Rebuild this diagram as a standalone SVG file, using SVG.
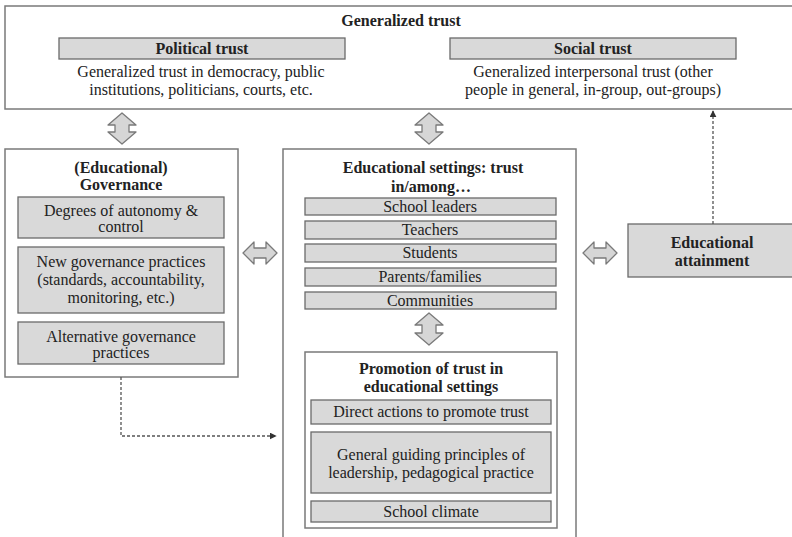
<svg xmlns="http://www.w3.org/2000/svg" width="792" height="537" viewBox="0 0 792 537">
<style>
text{font-family:'Liberation Serif','DejaVu Serif',serif;font-size:16px;fill:#222;text-anchor:middle}
.b{font-weight:bold}
.frame{fill:#fff;stroke:#7a7a7a;stroke-width:1.5}
.item{fill:#d9d9d9;stroke:#6a6a6a;stroke-width:1.3}
.dbl{fill:#d6d6d6;stroke:#7a7a7a;stroke-width:1.3;stroke-linejoin:round}
.dot{fill:none;stroke:#555;stroke-width:1.3;stroke-dasharray:3 2}
</style>
<defs>
<marker id="ah" viewBox="0 0 10 10" refX="9" refY="5" markerWidth="7" markerHeight="7" orient="auto" markerUnits="userSpaceOnUse">
<path d="M0,0 L10,5 L0,10 z" fill="#333"/>
</marker>
</defs>
<rect width="792" height="537" fill="#fff"/>

<g id="generalized-trust">
<rect class="frame" x="5" y="6" width="800" height="103"/>
<text class="b" x="401" y="26">Generalized trust</text>
<g id="political-trust">
<rect class="item" x="59" y="38" width="286" height="21"/>
<text class="b" x="202" y="54">Political trust</text>
<text x="201" y="77">Generalized trust in democracy, public</text>
<text x="201" y="95">institutions, politicians, courts, etc.</text>
</g>
<g id="social-trust">
<rect class="item" x="450" y="38" width="286" height="21"/>
<text class="b" x="593" y="54">Social trust</text>
<text x="593" y="77">Generalized interpersonal trust (other</text>
<text x="593" y="95">people in general, in-group, out-groups)</text>
</g>
</g>

<g id="governance">
<rect class="frame" x="5" y="149" width="233" height="228"/>
<text class="b" x="121" y="173">(Educational)</text>
<text class="b" x="121" y="190">Governance</text>
<rect class="item" x="18" y="197" width="206" height="41"/>
<text x="121" y="216">Degrees of autonomy &amp;</text>
<text x="121" y="232">control</text>
<rect class="item" x="18" y="247" width="206" height="66"/>
<text x="121" y="267">New governance practices</text>
<text x="121" y="285">(standards, accountability,</text>
<text x="121" y="303">monitoring, etc.)</text>
<rect class="item" x="18" y="322" width="206" height="42"/>
<text x="121" y="342">Alternative governance</text>
<text x="121" y="358">practices</text>
</g>

<g id="educational-settings">
<rect class="frame" x="283" y="149" width="293" height="400"/>
<text class="b" x="433" y="173">Educational settings: trust</text>
<text class="b" x="431" y="192">in/among…</text>
<rect class="item" x="305" y="198" width="251" height="17"/>
<text x="430" y="212">School leaders</text>
<rect class="item" x="305" y="221" width="251" height="18"/>
<text x="430" y="235">Teachers</text>
<rect class="item" x="305" y="244" width="251" height="18"/>
<text x="430" y="258">Students</text>
<rect class="item" x="305" y="268" width="251" height="18"/>
<text x="430" y="282">Parents/families</text>
<rect class="item" x="305" y="292" width="251" height="17"/>
<text x="430" y="306">Communities</text>
</g>

<g id="promotion-of-trust">
<rect class="frame" x="305" y="352" width="252" height="176"/>
<text class="b" x="431" y="374">Promotion of trust in</text>
<text class="b" x="431" y="392">educational settings</text>
<rect class="item" x="311" y="400" width="240" height="24"/>
<text x="431" y="417">Direct actions to promote trust</text>
<rect class="item" x="311" y="432" width="240" height="61"/>
<text x="431" y="460">General guiding principles of</text>
<text x="431" y="478">leadership, pedagogical practice</text>
<rect class="item" x="311" y="501" width="240" height="21"/>
<text x="431" y="517">School climate</text>
</g>

<g id="educational-attainment">
<rect class="item" x="628" y="224" width="180" height="53"/>
<text class="b" x="712" y="248">Educational</text>
<text class="b" x="712" y="266">attainment</text>
</g>

<g id="connectors">
<polygon class="dbl" points="122,113 136,125 129,125 129,132 136,132 122,144 108,132 115,132 115,125 108,125"/>
<polygon class="dbl" points="429,113 443,125 436,125 436,132 443,132 429,144 415,132 422,132 422,125 415,125"/>
<polygon class="dbl" points="429,313 443,325 436,325 436,333 443,333 429,345 415,333 422,333 422,325 415,325"/>
<polygon class="dbl" points="243,253 254,242 254,248 266,248 266,242 277,253 266,264 266,258 254,258 254,264"/>
<polygon class="dbl" points="583,253 594,242 594,248 606,248 606,242 617,253 606,264 606,258 594,258 594,264"/>
<polyline class="dot" points="121,377 121,436 276,436" marker-end="url(#ah)"/>
<line class="dot" x1="713" y1="224" x2="713" y2="111" marker-end="url(#ah)"/>
</g>
</svg>
